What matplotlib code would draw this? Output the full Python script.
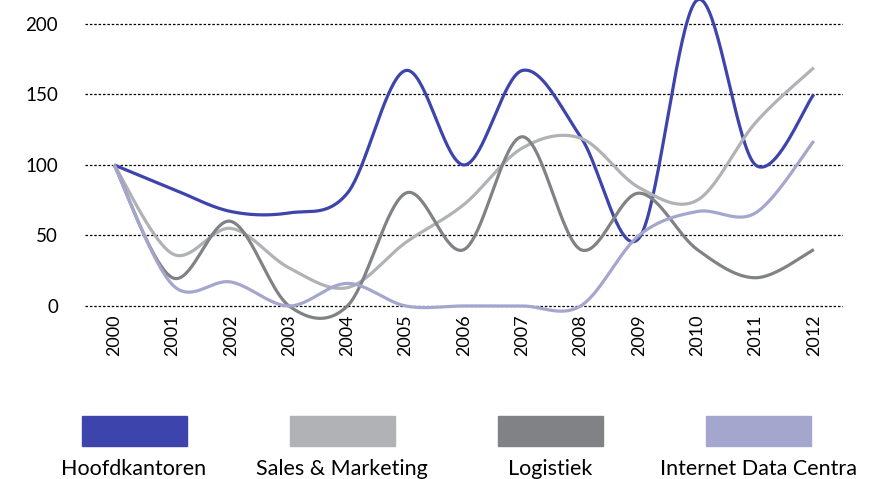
import matplotlib
matplotlib.use('Agg')

import matplotlib.pyplot as plt
from matplotlib.patches import Rectangle
import numpy as np

plt.rcParams['font.family'] = ['Lato', 'DejaVu Sans']

# data
years = ['2000', '2001', '2002', '2003', '2004', '2005', '2006',
         '2007', '2008', '2009', '2010', '2011', '2012']
hoofdkantoren = [100, 83, 67, 66, 80, 167, 100, 167, 120, 48, 217, 100, 150]
sales_marketing = [100, 37, 55, 27, 13, 45, 72, 112, 119, 84, 75, 130, 169]
logistiek = [100, 20, 60, 0, 0, 80, 40, 120, 40, 80, 40, 20, 40]
internet_dc = [100, 15, 17, 0, 16, 0, 0, 0, 0, 50, 67, 66, 117]

series = ['Hoofdkantoren', 'Sales & Marketing', 'Logistiek', 'Internet Data Centra']
colors = ['#3d44ab', '#b0b2b5', '#818285', '#a5a6cd']


def smooth(xs, ys, n=40):
    # Excel-achtige gladde lijn (Catmull-Rom als Bezier)
    xs = np.asarray(xs, float)
    ys = np.asarray(ys, float)
    px = np.concatenate([[xs[0]], xs, [xs[-1]]])
    py = np.concatenate([[ys[0]], ys, [ys[-1]]])
    out_x, out_y = [], []
    t = np.linspace(0, 1, n)
    for i in range(1, len(px) - 2):
        p0 = np.array([px[i], py[i]])
        p3 = np.array([px[i + 1], py[i + 1]])
        c1 = p0 + (np.array([px[i + 1], py[i + 1]]) - np.array([px[i - 1], py[i - 1]])) / 6
        c2 = p3 - (np.array([px[i + 2], py[i + 2]]) - np.array([px[i], py[i]])) / 6
        b = ((1 - t) ** 3)[:, None] * p0 + (3 * (1 - t) ** 2 * t)[:, None] * c1 \
            + (3 * (1 - t) * t ** 2)[:, None] * c2 + (t ** 3)[:, None] * p3
        out_x.extend(b[:, 0])
        out_y.extend(b[:, 1])
    return out_x, out_y


fig = plt.figure(figsize=(8.83, 4.79), dpi=100)
ax = fig.add_axes([85 / 883, 1 - 313 / 479, 758 / 883, 313 / 479])

x = np.arange(len(years))
for vals, c in zip([hoofdkantoren, sales_marketing, logistiek, internet_dc], colors):
    sx, sy = smooth(x, vals)
    ax.plot(sx, sy, color=c, lw=2.3, clip_on=False, solid_capstyle='butt', zorder=3)

ax.set_xlim(-0.5, 12.5)
ax.set_ylim(-5, 217)
ax.set_yticks([0, 50, 100, 150, 200])
ax.set_yticklabels(['0', '50', '100', '150', '200'], fontsize=13.5)
ax.set_xticks(x)
ax.set_xticklabels(years, rotation=90, fontsize=13, va='top')
ax.tick_params(axis='both', length=0)
ax.tick_params(axis='y', pad=19.5)
ax.tick_params(axis='x', pad=1)
for s in ax.spines.values():
    s.set_visible(False)
for v in [0, 50, 100, 150, 200]:
    ax.axhline(v, color='black', lw=0.9, ls=(0, (2, 1.5)), zorder=1)

# legenda onderaan
lx = [82, 290, 498, 706]
for name, c, x0 in zip(series, colors, lx):
    fig.patches.append(Rectangle((x0 / 883, 1 - 446 / 479), 105 / 883, 30 / 479,
                                 transform=fig.transFigure, color=c))
    fig.text((x0 + 52) / 883, 1 - 469 / 479, name, ha='center', va='center', fontsize=15.5)

fig.savefig('out.png', dpi=100)
